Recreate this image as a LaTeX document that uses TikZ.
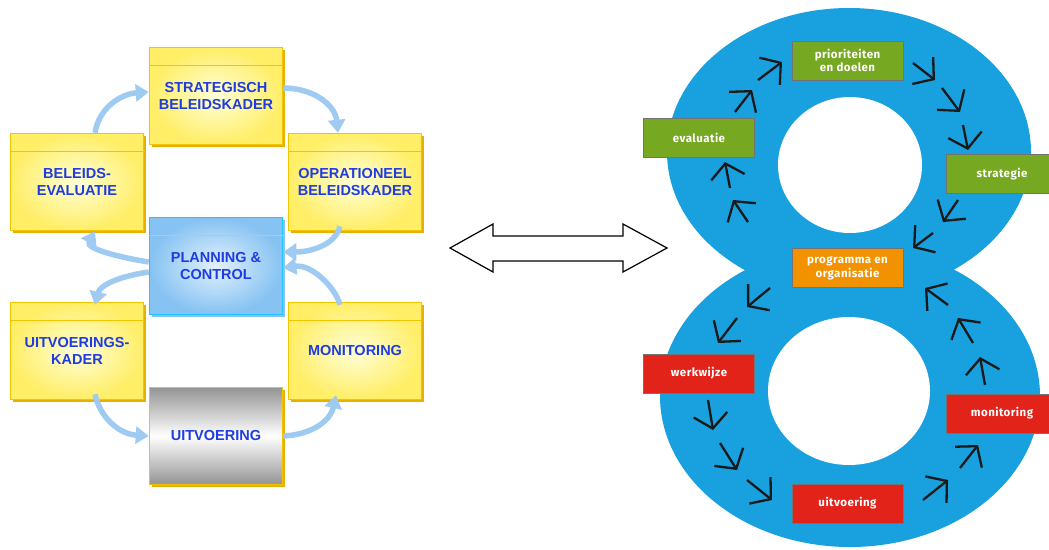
\documentclass[tikz,border=0pt]{standalone}
\usepackage{fontspec}
\newfontfamily\arialfont{Liberation Sans}
\newfontfamily\dinfont[LetterSpace=4]{Fira Sans}
\usetikzlibrary{arrows.meta, shadows, calc}
\definecolor{kaderrand}{HTML}{F5C400}
\definecolor{kaderschaduw}{HTML}{E8B000}
\definecolor{geel}{HTML}{FFEE66}
\definecolor{geellicht}{HTML}{FFFFD8}
\definecolor{kadertekst}{HTML}{1E3CE0}
\definecolor{boogblauw}{HTML}{9FCBF3}
\definecolor{pcrand}{HTML}{1EC4FF}
\definecolor{pcbinnen}{HTML}{E2F1FF}
\definecolor{pcbuiten}{HTML}{86C2F2}
\definecolor{achtblauw}{HTML}{18A0DF}
\definecolor{groen}{HTML}{76A822}
\definecolor{oranje}{HTML}{F39200}
\definecolor{rood}{HTML}{E2231A}
\definecolor{pijlzwart}{HTML}{1A1A1A}
\tikzset{
    kader/.style={rectangle, draw=kaderrand, line width=1.5pt, minimum width=133pt, minimum height=97pt,
      inner sep=0pt, inner color=geellicht, outer color=geel, align=center, text=kadertekst,
      font=\arialfont\bfseries\fontsize{14.5}{16.5}\selectfont,
      drop shadow={shadow xshift=2pt, shadow yshift=-2pt, fill=kaderschaduw, opacity=1}},
    boog/.style={-{Triangle[length=13pt,width=17pt]}, line width=5.5pt, draw=boogblauw},
    stap/.style={rectangle, draw=black!55, line width=0.4pt, minimum width=111pt, minimum height=39pt,
      inner sep=0pt, text=white, align=center, font=\dinfont\bfseries\fontsize{11.5}{13.5}\selectfont},
    pijl/.style={-{Straight Barb[length=14pt,width=34pt,line width=2.3pt]}, line width=2.3pt, draw=pijlzwart},
}
\begin{document}
\begin{tikzpicture}[x=1pt, y=-1pt]
    \useasboundingbox (0,0) rectangle (1049,549);

    % linker schema
    \node[kader] (sb) at (216,96) {STRATEGISCH\\BELEIDSKADER};
    \node[kader] (be) at (77,182) {BELEIDS-\\EVALUATIE};
    \node[kader] (ob) at (355,182) {OPERATIONEEL\\BELEIDSKADER};
    \node[kader, draw=pcrand, inner color=pcbinnen, outer color=pcbuiten,
      drop shadow={shadow xshift=2pt, shadow yshift=-2pt, fill=pcbuiten, opacity=1}] (pc) at (216,266) {PLANNING \&\\CONTROL};
    \node[kader] (uk) at (77,351) {UITVOERINGS-\\KADER};
    \node[kader] (mo) at (355,351) {MONITORING};
    \node[kader, top color=black!42, bottom color=black!42, middle color=white] (uv) at (216,436) {UITVOERING};

    \foreach \k in {sb, be, ob, uk, mo, uv}
      \draw[kaderrand, line width=1.2pt] ([yshift=-19pt]\k.north west) -- ([yshift=-19pt]\k.north east);
    \draw[pcrand!60, line width=0.6pt] ([yshift=-19pt]pc.north west) -- ([yshift=-19pt]pc.north east);

    \draw[boog] ([xshift=18pt]be.north) .. controls +(4,-25) and +(-28,2) .. ([yshift=4pt]sb.west);
    \draw[boog] ([yshift=8pt]sb.east) .. controls +(30,0) and +(-3,-28) .. ([xshift=-17pt]ob.north);
    \draw[boog] ([xshift=-15pt, yshift=5pt]ob.south) .. controls +(-5,20) and +(25,0) .. ([yshift=14pt]pc.east);
    \draw[boog] ([yshift=4pt]pc.west) .. controls +(-25,-4) and +(-10,18) .. ([xshift=18pt]be.south);
    \draw[boog] ([yshift=-6pt]pc.west) .. controls +(-28,4) and +(5,-20) .. ([xshift=18pt, yshift=-3pt]uk.north);
    \draw[boog] ([xshift=-15pt, yshift=-3pt]mo.north) .. controls +(-5,-18) and +(28,-4) .. ([yshift=-2pt]pc.east);
    \draw[boog] ([xshift=18pt, yshift=6pt]uk.south) .. controls +(5,23) and +(-30,-2) .. (uv.west);
    \draw[boog] (uv.east) .. controls +(26,-1) and +(-6,27) .. ([xshift=-19pt, yshift=5pt]mo.south);

    % dubbele pijl
    \draw[line width=1.2pt, fill=white, line join=miter]
      (450,248) -- (493,224) -- (493,236) -- (623,236) -- (623,224) -- (667,248)
      -- (623,272) -- (623,261) -- (493,261) -- (493,272) -- cycle;

    % de acht
    \fill[achtblauw] (849,152) ellipse [x radius=182pt, y radius=144pt];
    \fill[achtblauw] (850,396) ellipse [x radius=190pt, y radius=151pt];
    \fill[white] (850,165) ellipse [x radius=72pt, y radius=68pt];
    \fill[white] (849,391) ellipse [x radius=81pt, y radius=74pt];

    \node[stap, fill=groen] (pd) at (847.5,60.5) {prioriteiten\\en doelen};
    \node[stap, fill=groen] (ev) at (699,138) {evaluatie};
    \node[stap, fill=groen] (st) at (1002,174) {strategie};
    \node[stap, fill=oranje] (po) at (847.5,268) {programma en\\organisatie};
    \node[stap, fill=rood] (ww) at (699,373.5) {werkwijze};
    \node[stap, fill=rood] (mn) at (1002,413.5) {monitoring};
    \node[stap, fill=rood] (ui) at (847.5,503.5) {uitvoering};

    \foreach \xa/\ya/\xb/\yb in {758/80/782/62, 735/112/752/90, 730/188/725/162, 748/222/733/200,
      913/63/935/80, 942/88/960/112, 963/125/968/150, 958/200/943/222, 933/233/913/248,
      770/288/747/307, 737/318/718/343, 708/400/713/430, 720/443/737/470, 747/480/772/500,
      923/500/948/480, 960/468/978/445, 985/385/980/357, 973/343/958/318, 948/305/925/288}
      \draw[pijl] (\xa,\ya) -- (\xb,\yb);
\end{tikzpicture}
\end{document}
